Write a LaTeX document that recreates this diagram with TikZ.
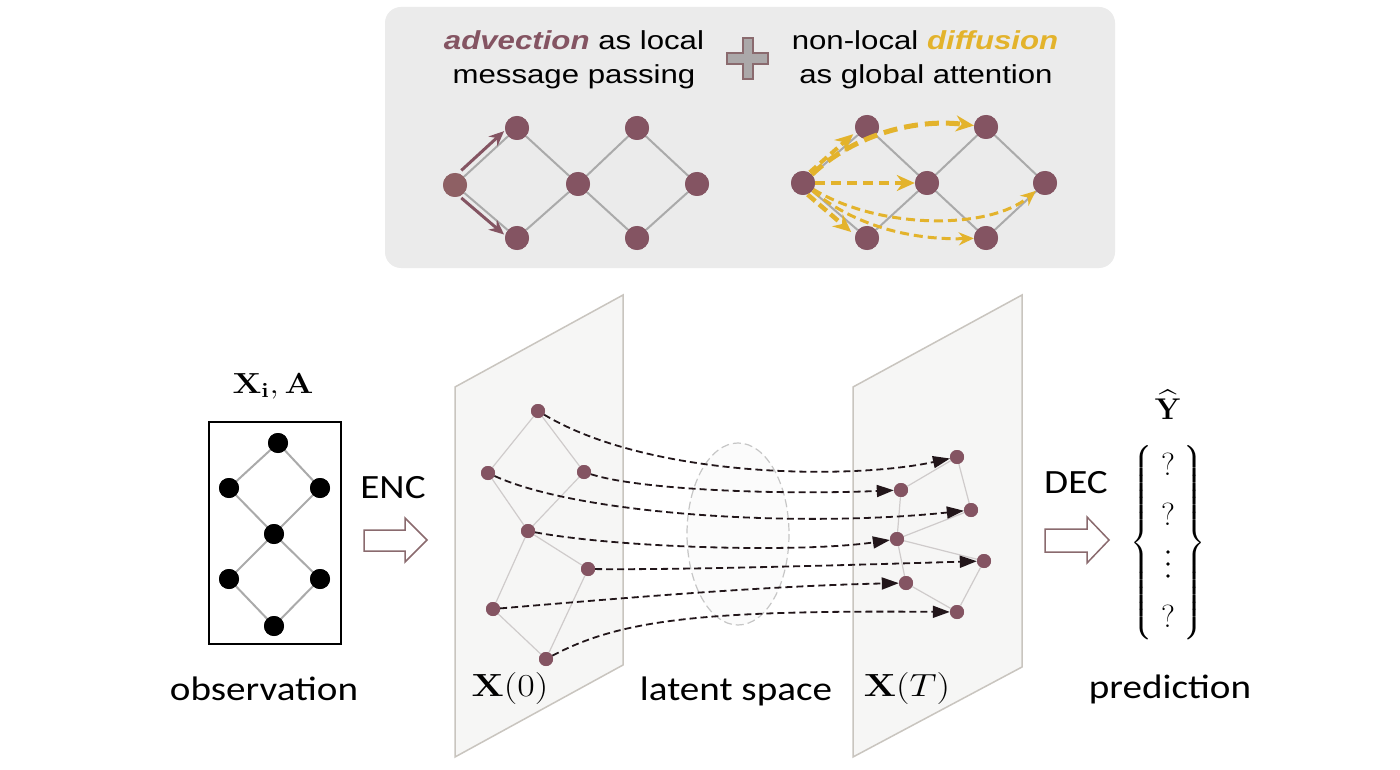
\RequirePackage{fix-cm}
\documentclass[tikz,border=0pt]{standalone}
\usepackage[no-math]{fontspec}
\usepackage{amsmath}
\setmainfont{Carlito}
\newfontfamily\helv{Liberation Sans}
\usetikzlibrary{arrows.meta,calc}
\definecolor{plum}{HTML}{845462}
\definecolor{plumsrc}{HTML}{8E6064}
\definecolor{gold}{HTML}{E3B32C}
\definecolor{panelc}{HTML}{EBEBEB}
\definecolor{edgec}{HTML}{AAAAAA}
\definecolor{planec}{HTML}{F6F6F5}
\definecolor{planeedge}{HTML}{C9C5BF}
\definecolor{latedge}{HTML}{CFCBCB}
\definecolor{flowc}{HTML}{22161A}
\definecolor{blockc}{HTML}{8A6A6E}
\definecolor{plusc}{HTML}{ABA8A9}
\tikzset{
  topnode/.style={circle,fill=plum,minimum size=24pt,inner sep=0pt},
  obsnode/.style={circle,fill=black,minimum size=20pt,inner sep=0pt},
  latnode/.style={circle,fill=plum,minimum size=14pt,inner sep=0pt},
  grayedge/.style={draw=edgec,line width=2pt},
  latline/.style={draw=latedge,line width=1.2pt},
  advarrow/.style={draw=plum,line width=3pt,-{Stealth[length=15pt,width=13pt]}},
  diffarrow/.style={draw=gold,-{Stealth[length=18pt,width=16pt]}},
  flow/.style={draw=flowc,line width=1.8pt,dash pattern=on 7pt off 4pt,-{Triangle[length=17pt,width=12pt]}},
  toptext/.style={font=\helv\fontsize{26}{31}\selectfont,inner sep=0pt},
  labeltext/.style={font=\fontsize{34}{40}\selectfont,inner sep=0pt,anchor=base},
  mathtext/.style={font=\fontsize{20}{24}\selectfont,inner sep=0pt},
  qmark/.style={font=\fontsize{20}{24}\selectfont,inner sep=0pt},
  vdot/.style={circle,fill=black,minimum size=3.6pt,inner sep=0pt},
  blockarrow/.style={draw=blockc,fill=white,line width=1.5pt},
}
\begin{document}
\begin{tikzpicture}[x=1pt,y=-1pt]
\useasboundingbox (0,0) rectangle (1400,770);
\fill[white] (0,0) rectangle (1400,770);

% ---------- top panel ----------
\fill[panelc,rounded corners=16pt] (385,7) rectangle (1115,268);
\node[toptext] (t1) at (574,40) {\scalebox{1.2}[1]{\textcolor{plum}{\textbf{\textit{advection}}} as local}};
\node[toptext] (t2) at (574,77) {\scalebox{1.2}[1]{message passing}};
\node[toptext] (t3) at (925,40) {\scalebox{1.2}[1]{non-local \textcolor{gold}{\textbf{\textit{diffusion}}}}};
\node[toptext] (t4) at (926,77) {\scalebox{1.2}[1]{as global attention}};
\filldraw[fill=plusc,draw=blockc,line width=1.5pt]
  (743,38) -- (753,38) -- (753,53) -- (768,53) -- (768,64) -- (753,64) -- (753,79)
  -- (743,79) -- (743,64) -- (727,64) -- (727,53) -- (743,53) -- cycle;

% advection graph
\node[topnode,fill=plumsrc] (aS) at (455,185) {};
\node[topnode] (aT1) at (517,128) {};
\node[topnode] (aB1) at (517,238) {};
\node[topnode] (aM) at (578,184) {};
\node[topnode] (aT2) at (637,128) {};
\node[topnode] (aB2) at (637,238) {};
\node[topnode] (aR) at (697,184) {};
\draw[grayedge] (aS) -- (aT1) (aS) -- (aB1) (aT1) -- (aM) (aB1) -- (aM)
  (aM) -- (aT2) (aM) -- (aB2) (aT2) -- (aR) (aB2) -- (aR);
\foreach \n in {aT1,aB1,aM,aT2,aB2,aR}{\node[topnode] at (\n) {};}
\node[topnode,fill=plumsrc] at (aS) {};
\draw[advarrow] ($(aS)!0.15!(aT1)+(-3,-6)$) -- ($(aS)!0.84!(aT1)+(-3,-6)$);
\draw[advarrow] ($(aS)!0.15!(aB1)+(-3,5)$) -- ($(aS)!0.84!(aB1)+(-3,5)$);

% diffusion graph
\node[topnode] (dS) at (803,183) {};
\node[topnode] (dT1) at (867,127) {};
\node[topnode] (dB1) at (867,238) {};
\node[topnode] (dM) at (927,183) {};
\node[topnode] (dT2) at (986,127) {};
\node[topnode] (dB2) at (986,238) {};
\node[topnode] (dR) at (1045,183) {};
\draw[grayedge] (dS) -- (dT1) (dS) -- (dB1) (dT1) -- (dM) (dB1) -- (dM)
  (dM) -- (dT2) (dM) -- (dB2) (dT2) -- (dR) (dB2) -- (dR);
\foreach \n in {dS,dT1,dB1,dM,dT2,dB2,dR}{\node[topnode] at (\n) {};}
\draw[diffarrow,line width=4pt,dash pattern=on 9pt off 5pt]
  ($(dS)!0.12!(dT1)+(-1,-4)$) -- ($(dS)!0.8!(dT1)+(-1,-4)$);
\draw[diffarrow,line width=5pt,dash pattern=on 14pt off 7pt]
  (dS) .. controls (850,138) and (910,118) .. (dT2);
\draw[diffarrow,line width=4pt,dash pattern=on 10pt off 6pt] (dS) -- (dM);
\draw[diffarrow,line width=3pt,dash pattern=on 9pt off 5pt,-{Stealth[length=15pt,width=13pt]}]
  (dS) .. controls (880,230) and (990,230) .. (dR);
\draw[diffarrow,line width=3pt,dash pattern=on 9pt off 5pt,-{Stealth[length=15pt,width=13pt]}]
  (dS) .. controls (860,230) and (920,240) .. (dB2);
\draw[diffarrow,line width=4.5pt,dash pattern=on 10pt off 5pt]
  ($(dS)!0.12!(dB1)+(-3,5)$) -- ($(dS)!0.8!(dB1)+(-3,5)$);

% ---------- observation ----------
\node[draw=black,line width=1.2pt,minimum width=132pt,minimum height=222pt,inner sep=0pt] (obs) at (275,533) {};
\node[obsnode] (o1) at (278,443) {};
\node[obsnode] (o2) at (229,488) {};
\node[obsnode] (o3) at (320,488) {};
\node[obsnode] (o4) at (274,534) {};
\node[obsnode] (o5) at (229,579) {};
\node[obsnode] (o6) at (320,579) {};
\node[obsnode] (o7) at (274,626) {};
\draw[grayedge] (o1) -- (o2) (o1) -- (o3) (o2) -- (o4) (o3) -- (o4)
  (o4) -- (o5) (o4) -- (o6) (o5) -- (o7) (o6) -- (o7);
\foreach \n in {o1,o2,o3,o4,o5,o6,o7}{\node[obsnode] at (\n) {};}
\node[mathtext] (xa) at (273,386)
  {\scalebox{1.7}[1.45]{$\mathbf{X}_{\mathbf{i}},\mathbf{A}$}};
\node[labeltext] (obslab) at (264,700) {\scalebox{1.15}[1]{observation}};
\node[labeltext] (enc) at (393,498) {\scalebox{1.15}[1]{ENC}};
\filldraw[blockarrow] (364,530) -- (405,530) -- (405,518) -- (427,540) -- (405,562)
  -- (405,551) -- (364,551) -- cycle;

% ---------- latent planes ----------
\filldraw[fill=planec,draw=planeedge,line width=1.5pt]
  (455,387) -- (623,295) -- (623,665) -- (455,757) -- cycle;
\filldraw[fill=planec,draw=planeedge,line width=1.5pt]
  (853,387) -- (1022,295) -- (1022,667) -- (853,757) -- cycle;
\draw[draw=gray!45,fill=gray!3,line width=1.2pt,dash pattern=on 8pt off 4pt]
  (738,534) ellipse [x radius=51, y radius=91];

\node[latnode] (la) at (538,411) {};
\node[latnode] (lb) at (488,473) {};
\node[latnode] (lc) at (584,472) {};
\node[latnode] (ld) at (528,531) {};
\node[latnode] (le) at (588,569) {};
\node[latnode] (lf) at (493,609) {};
\node[latnode] (lg) at (546,659) {};
\draw[latline] (la) -- (lb) (la) -- (lc) (lb) -- (ld) (lc) -- (ld)
  (ld) -- (le) (ld) -- (lf) (le) -- (lg) (lf) -- (lg);

\node[latnode] (rA) at (957,457) {};
\node[latnode] (rB) at (901,490) {};
\node[latnode] (rC) at (971,510) {};
\node[latnode] (rD) at (897,539) {};
\node[latnode] (rE) at (984,561) {};
\node[latnode] (rF) at (906,583) {};
\node[latnode] (rG) at (957,612) {};
\draw[latline] (rA) -- (rB) (rA) -- (rC) (rB) -- (rD) (rC) -- (rD)
  (rD) -- (rE) (rD) -- (rF) (rE) -- (rG) (rF) -- (rG);
\foreach \n in {la,lb,lc,ld,le,lf,lg,rA,rB,rC,rD,rE,rF,rG}{\node[latnode] at (\n) {};}

\draw[flow] (la) .. controls (650,478) and (850,480) .. (rA);
\draw[flow] (lc) .. controls (640,490) and (780,495) .. (rB);
\draw[flow] (lb) .. controls (580,515) and (800,528) .. (rC);
\draw[flow] (ld) .. controls (620,548) and (800,553) .. (rD);
\draw[flow] (le) .. controls (680,570) and (850,565) .. (rE);
\draw[flow] (lf) .. controls (600,600) and (760,586) .. (rF);
\draw[flow] (lg) .. controls (620,620) and (700,610) .. (rG);

\node[mathtext] (x0) at (510,688) {\scalebox{1.9}[1.6]{$\mathbf{X}(0)$}};
\node[mathtext] (xT) at (907,688) {\scalebox{1.9}[1.6]{$\mathbf{X}(T)$}};
\node[labeltext] (lat) at (736,700) {\scalebox{1.15}[1]{latent space}};

% ---------- prediction ----------
\node[labeltext] (dec) at (1076,493) {\scalebox{1.15}[1]{DEC}};
\filldraw[blockarrow] (1045,529) -- (1087,529) -- (1087,517) -- (1109,540) -- (1087,563)
  -- (1087,552) -- (1045,552) -- cycle;
\node[mathtext] (yhat) at (1168,405)
  {\scalebox{1.5}[1.5]{$\widehat{\mathbf{Y}}$}};
\node[font=\fontsize{26}{32}\selectfont,inner sep=0pt] (vec) at (1168,544)
  {$\left\{\vrule height 92pt depth 93pt width 0pt\hspace{30pt}\right\}$};
\node[qmark] (q1) at (1168,464) {\scalebox{1.6}{$?$}};
\node[qmark] (q2) at (1168,514) {\scalebox{1.6}{$?$}};
\node[vdot] (v1) at (1168,552) {};
\node[vdot] (v2) at (1168,564) {};
\node[vdot] (v3) at (1168,576) {};
\node[qmark] (q3) at (1168,616) {\scalebox{1.6}{$?$}};
\node[labeltext] (pred) at (1170,698) {\scalebox{1.15}[1]{prediction}};
\end{tikzpicture}
\end{document}
